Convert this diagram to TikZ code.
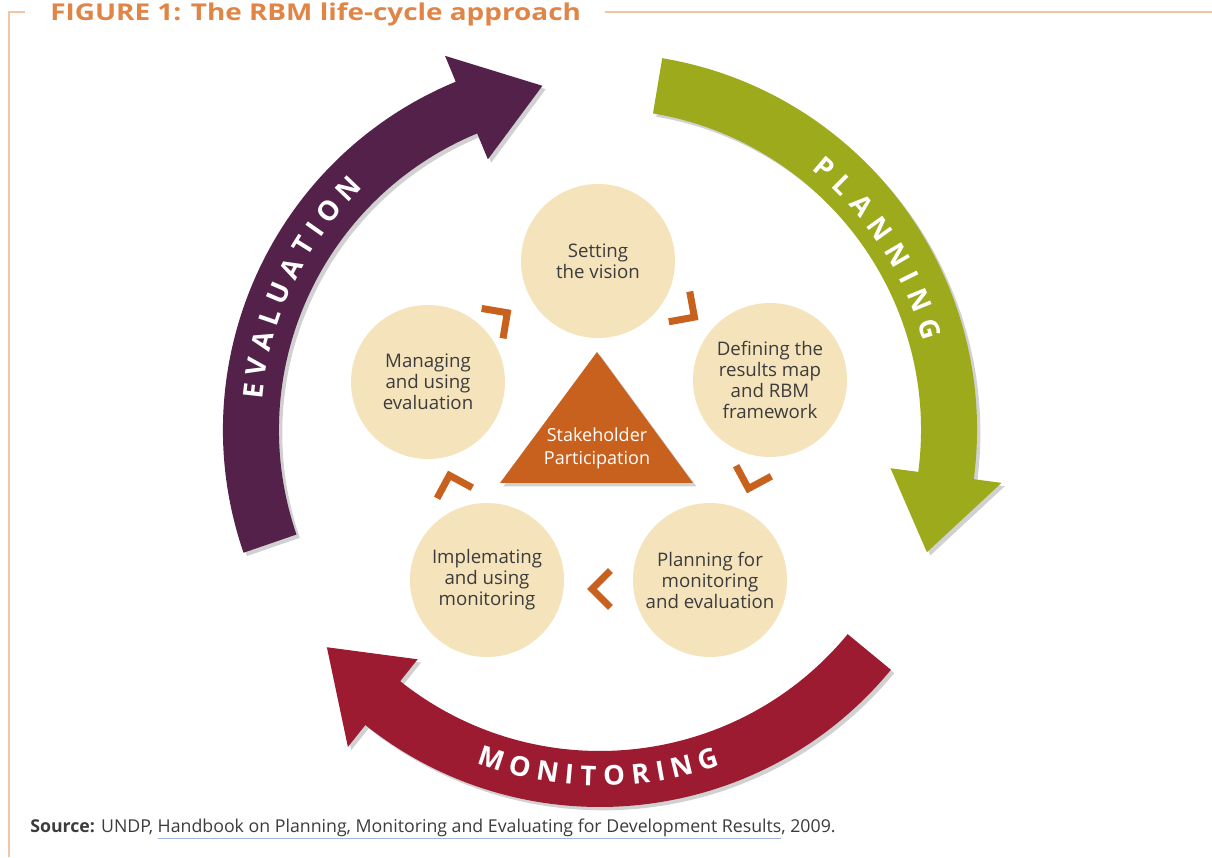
\documentclass[tikz,border=0pt]{standalone}
\usepackage{fontspec}
\setmainfont{Open Sans}
\usetikzlibrary{calc,shadows}
\definecolor{evalc}{HTML}{54214B}
\definecolor{planc}{HTML}{9DAA1B}
\definecolor{monc}{HTML}{9C1B30}
\definecolor{creamc}{HTML}{F5E3BB}
\definecolor{orangec}{HTML}{C8601E}
\definecolor{titlec}{HTML}{E08546}
\definecolor{framec}{HTML}{F2C6A4}
\definecolor{textc}{HTML}{3C3C3C}
\definecolor{ulc}{HTML}{9FB4D6}
\newcommand\bluline[1]{{\color{ulc}\underline{\textcolor{textc}{#1}}}}
% curved band arrow: colour, tail angle, head-base angle, tip angle
\newcommand\rbmarrow[4]{%
  \fill[#1, bandshadow] (#2:377) arc[start angle=#2, end angle=#3, radius=377]
    -- (#3:405) -- (#4:349) -- (#3:293) -- (#3:321)
    arc[start angle=#3, end angle=#2, radius=321] -- cycle;}
% chevron: from node, to node, centre coordinate
\newcommand\rbmchev[3]{%
  \draw[chevron] let \p1=($(#2)-(#1)$), \n1={atan2(\y1,\x1)} in
    ($(#3)+(\n1:9)+(\n1+135:26)$) -- ($(#3)+(\n1:9)$) -- ($(#3)+(\n1:9)+(\n1-135:26)$);}
\begin{document}
\begin{tikzpicture}[x=0.75pt,y=0.75pt,
  bandshadow/.style={drop shadow={shadow xshift=2.5pt,shadow yshift=-2.5pt,opacity=0.18,fill=black}},
  stepcircle/.style={circle, fill=creamc, minimum size=115.5pt, inner sep=0pt, align=center,
    text=textc, font=\fontsize{14}{15.75}\selectfont},
  chevron/.style={draw=orangec, line width=5.25pt, line cap=butt, line join=miter},
  arcletter/.style={text=white, font=\bfseries\fontsize{20.5}{20.5}\selectfont, inner sep=0pt},
  framel/.style={draw=framec, line width=1.5pt}]
\useasboundingbox (0,0) rectangle (1212,857);
\fill[white] (0,0) rectangle (1212,857);
% frame
\draw[framel] (8.5,0) -- (8.5,845) -- (25,845);
\draw[framel] (605,845) -- (1212,845);
% title
\node[anchor=base west, inner sep=0pt, text=titlec, font=\bfseries] (title) at (50,836)
  {\scalebox{1}[0.83]{\resizebox{398pt}{!}{FIGURE 1: The RBM life-cycle approach}}};
% source
\node[anchor=base west, inner sep=0pt, text=textc] (source) at (30,25)
  {\resizebox{604pt}{!}{\textbf{Source:} UNDP, \bluline{Handbook on Planning, Monitoring and Evaluating for Development Results}, 2009.}};
% big arrows
\begin{scope}[shift={(600,427)}]
  \rbmarrow{evalc}{199}{112.5}{99.5}
  \rbmarrow{planc}{80.5}{-7.5}{-20.5}
  \rbmarrow{monc}{-39.5}{-128.5}{-141.5}
  \foreach \ch/\a in {E/173.6, V/169.56, A/165.23, L/161.15, U/156.93, A/152.39, T/148.19, I/144.82, O/141.02, N/136.2}
    \node[arcletter, rotate=\a-90] at (\a:349) {\ch};
  \foreach \ch/\a in {P/49.5, L/45.15, A/40.65, N/35.65, N/30.45, I/26.29, N/22.12, G/17.02}
    \node[arcletter, rotate=\a-90] at (\a:345) {\ch};
  \foreach \ch/\a in {M/-108.3, O/-103.33, N/-98.69, I/-95.11, T/-91.93, O/-87.68, R/-83.29, I/-79.97, N/-76.39, G/-71.89}
    \node[arcletter, rotate=\a+90] at (\a:346) {\ch};
\end{scope}
% steps
\node[stepcircle] (vision) at (598,596) {Setting\\the vision};
\node[stepcircle] (define) at (770,477) {Defining the\\results map\\and RBM\\framework};
\node[stepcircle] (plan) at (710,277) {Planning for\\monitoring\\and evaluation};
\node[stepcircle] (implement) at (487,277) {Implemating\\and using\\monitoring};
\node[stepcircle] (manage) at (428,475) {Managing\\and using\\evaluation};
% triangle
\coordinate (tA) at (597,505);
\coordinate (tL) at (500,374);
\coordinate (tR) at (693,374);
\fill[orangec, bandshadow] (tA) -- (tR) -- (tL) -- cycle;
\node[text=white, align=center, font=\fontsize{13.5}{17}\selectfont] (stake) at (597,409)
  {Stakeholder\\Participation};
% chevrons
\coordinate (c1) at (500,539);
\coordinate (c2) at (687,545);
\coordinate (c3) at (751,377);
\coordinate (c4) at (601,268);
\coordinate (c5) at (452,373);
\rbmchev{manage}{vision}{c1}
\rbmchev{vision}{define}{c2}
\rbmchev{define}{plan}{c3}
\rbmchev{plan}{implement}{c4}
\rbmchev{implement}{manage}{c5}
\end{tikzpicture}
\end{document}
